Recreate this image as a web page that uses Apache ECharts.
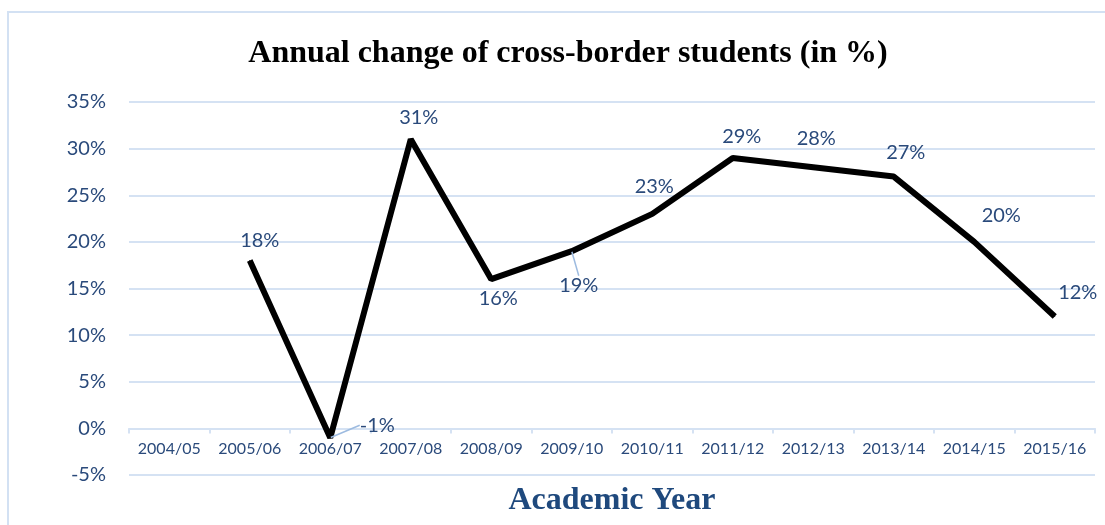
<!DOCTYPE html>
<html>
<head>
<meta charset="utf-8">
<script src="https://cdn.jsdelivr.net/npm/echarts@6/dist/echarts.min.js"></script>
<style>
  html, body { margin: 0; padding: 0; background: #fff; }
  #chart-container { width: 1105px; height: 525px; }
</style>
</head>
<body>
<div id="chart-container"></div>
<script>
// Dati
const years = ['2004/05', '2005/06', '2006/07', '2007/08', '2008/09', '2009/10',
	'2010/11', '2011/12', '2012/13', '2013/14', '2014/15', '2015/16'];
const changes = [null, 18, -1, 31, 16, 19, 23, 29, 28, 27, 20, 12];
const yMin = -5, yMax = 35, yStep = 5;

// Spostamento delle etichette (dx, dy) rispetto alla posizione 'top'
const labelShift = [[0, 0], [10, -9], [47, -2], [8, -11], [7, 30], [7, 45],
	[2, -17], [9, -11], [3, -18], [12, -14], [27, -16], [23, -13]];
// etichette con linea guida
const withLeader = [2, 5];

const axisColor = '#d5e2f3';
const textBlue = '#2a4a7b';
const sansFont = 'Lato, "Open Sans", sans-serif';
const serifFont = '"Liberation Serif", "DejaVu Serif", serif';

const gridTop = 102, gridBottom = 50, chartHeight = 525;
// l'asse x passa per lo zero: lo sposto in su di quanto vale 0 - yMin
const zeroOffset = -(0 - yMin) / (yMax - yMin) * (chartHeight - gridTop - gridBottom);

const myChart = echarts.init(document.getElementById('chart-container'));

const option = {
	animation: false,
	graphic: [{
		type: 'rect',
		shape: { x: 8, y: 12, width: 1200, height: 600 },
		style: { fill: 'none', stroke: '#d3e1f3', lineWidth: 2 }
	}],
	title: {
		text: 'Annual change of cross-border students (in %)',
		left: 563,
		top: 33,
		textAlign: 'center',
		textStyle: { fontFamily: serifFont, fontWeight: 'bold', fontSize: 32, color: '#000' }
	},
	grid: { left: 129, right: 10, top: gridTop, bottom: gridBottom, containLabel: false, outerBoundsMode: 'none' },
	xAxis: {
		type: 'category',
		data: years,
		boundaryGap: true,
		offset: zeroOffset,
		name: 'Academic Year',
		nameLocation: 'middle',
		nameGap: 56,
		nameTextStyle: { fontFamily: serifFont, fontWeight: 'bold', fontSize: 32, color: '#1f497d' },
		axisLine: { onZero: false, lineStyle: { color: axisColor, width: 2 } },
		axisTick: { show: true, interval: 0, length: 5, lineStyle: { color: axisColor, width: 2 } },
		axisLabel: { interval: 0, margin: 12, fontFamily: sansFont, fontSize: 16, color: textBlue }
	},
	yAxis: {
		type: 'value',
		min: yMin,
		max: yMax,
		interval: yStep,
		axisLine: { show: false },
		axisTick: { show: false },
		axisLabel: { formatter: '{value}%', margin: 23, fontFamily: sansFont, fontSize: 20, color: textBlue },
		splitLine: { lineStyle: { color: axisColor, width: 2 } }
	},
	series: [{
		type: 'line',
		data: changes.map((v, i) => ({
			value: v,
			labelLine: { show: withLeader.includes(i) }
		})),
		connectNulls: false,
		symbol: 'circle',
		symbolSize: 1,
		showSymbol: true,
		itemStyle: { color: '#000' },
		lineStyle: { color: '#000', width: 6 },
		label: {
			show: true,
			position: 'top',
			distance: 0,
			formatter: (p) => p.value + '%',
			fontFamily: sansFont,
			fontSize: 20,
			color: textBlue
		},
		labelLine: { show: false, lineStyle: { color: '#9dbbe0', width: 1.5 } },
		labelLayout: (params) => {
			const s = labelShift[params.dataIndex] || [0, 0];
			return { dx: s[0], dy: s[1] };
		}
	}]
};

myChart.setOption(option);
</script>
</body>
</html>
